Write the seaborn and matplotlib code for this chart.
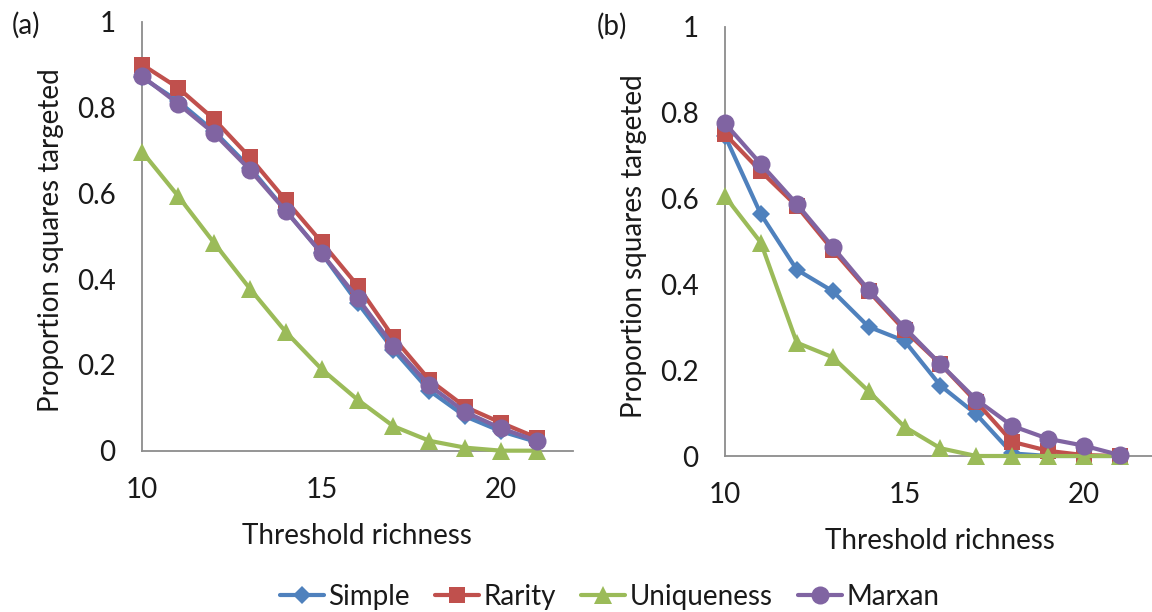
import numpy as np
import pandas as pd
import seaborn as sns
import matplotlib.pyplot as plt

# threshold richness values (x axis)
richness = list(range(10, 22))
methods = ['Simple', 'Rarity', 'Uniqueness', 'Marxan']

# panel (a)
a_simple = [0.870, 0.815, 0.745, 0.660, 0.560, 0.460, 0.345, 0.235, 0.140, 0.080, 0.045, 0.020]
a_rarity = [0.900, 0.846, 0.773, 0.684, 0.584, 0.486, 0.385, 0.264, 0.165, 0.102, 0.065, 0.030]
a_unique = [0.697, 0.594, 0.485, 0.378, 0.277, 0.190, 0.119, 0.057, 0.023, 0.007, 0.000, 0.000]
a_marxan = [0.873, 0.809, 0.740, 0.655, 0.559, 0.460, 0.356, 0.244, 0.152, 0.090, 0.052, 0.023]

# panel (b)
b_simple = [0.746, 0.563, 0.434, 0.384, 0.301, 0.268, 0.164, 0.097, 0.006, 0.000, 0.000, 0.000]
b_rarity = [0.750, 0.663, 0.582, 0.480, 0.384, 0.293, 0.214, 0.126, 0.033, 0.012, 0.002, 0.000]
b_unique = [0.605, 0.497, 0.264, 0.230, 0.151, 0.068, 0.018, 0.000, 0.000, 0.000, 0.000, 0.000]
b_marxan = [0.775, 0.680, 0.587, 0.487, 0.387, 0.299, 0.214, 0.131, 0.070, 0.040, 0.024, 0.002]

y_ticks = [0, 0.2, 0.4, 0.6, 0.8, 1]
y_ticklabels = ['0', '0.2', '0.4', '0.6', '0.8', '1']
x_ticks = [10, 15, 20]

colors = {'Simple': '#4F81BD', 'Rarity': '#C0504D', 'Uniqueness': '#9BBB59', 'Marxan': '#8064A2'}
marks = {'Simple': 'D', 'Rarity': 's', 'Uniqueness': '^', 'Marxan': 'o'}
msize = {'Simple': 9, 'Rarity': 11, 'Uniqueness': 13, 'Marxan': 13}

txt = '#1a1a1a'
grey = '#8c8c8c'


def make_frame(vals):
    rows = []
    for m, v in zip(methods, vals):
        for r, p in zip(richness, v):
            rows.append((r, p, m))
    return pd.DataFrame(rows, columns=['richness', 'proportion', 'method'])


df_a = make_frame([a_simple, a_rarity, a_unique, a_marxan])
df_b = make_frame([b_simple, b_rarity, b_unique, b_marxan])

sns.set_style('white')
plt.rcParams['font.family'] = ['Lato', 'DejaVu Sans']

fig = plt.figure(figsize=(11.52, 6.12), dpi=100)
ax_a = fig.add_axes([0.1233, 0.2636, 0.3741, 0.7010])
ax_b = fig.add_axes([0.6293, 0.2549, 0.3741, 0.7015])

for ax, df in [(ax_a, df_a), (ax_b, df_b)]:
    for m in methods:
        d = df[df['method'] == m]
        sns.lineplot(data=d, x='richness', y='proportion', ax=ax, color=colors[m],
                     marker=marks[m], markersize=msize[m], markeredgewidth=0,
                     linewidth=3.0, label=m, clip_on=False, legend=False)
    ax.set_xlim(10, 22)
    ax.set_ylim(0, 1)
    ax.set_xticks(x_ticks)
    ax.set_yticks(y_ticks)
    ax.set_yticklabels(y_ticklabels)
    sns.despine(ax=ax)
    for s in ['left', 'bottom']:
        ax.spines[s].set_color(grey)
        ax.spines[s].set_linewidth(1.3)
        ax.spines[s].set_zorder(0.5)
    ax.tick_params(axis='both', direction='out', length=7, width=1.3, color=grey,
                   labelsize=20, labelcolor=txt)
    ax.tick_params(axis='x', pad=12)
    ax.tick_params(axis='y', pad=12)
    ax.set_xlabel('Threshold richness', fontsize=20, color=txt, va='top')
    ax.set_ylabel('Proportion squares targeted', fontsize=20, color=txt)
    ax.xaxis.set_label_coords(0.498, -0.168)
    ax.yaxis.set_label_coords(-0.18, 0.49)

fig.text(12 / 1152, 1 - 25 / 612, '(a)', fontsize=20, color=txt, ha='left', va='center')
fig.text(597 / 1152, 1 - 26 / 612, '(b)', fontsize=20, color=txt, ha='left', va='center')

handles, labels = ax_a.get_legend_handles_labels()
fig.legend(handles, labels, loc='center', bbox_to_anchor=(0.529, 0.025), ncol=4,
           frameon=False, fontsize=20, handlelength=1.6, handletextpad=0.15,
           columnspacing=0.9, labelcolor=txt, borderpad=0)

fig.savefig('out.png', dpi=100)
